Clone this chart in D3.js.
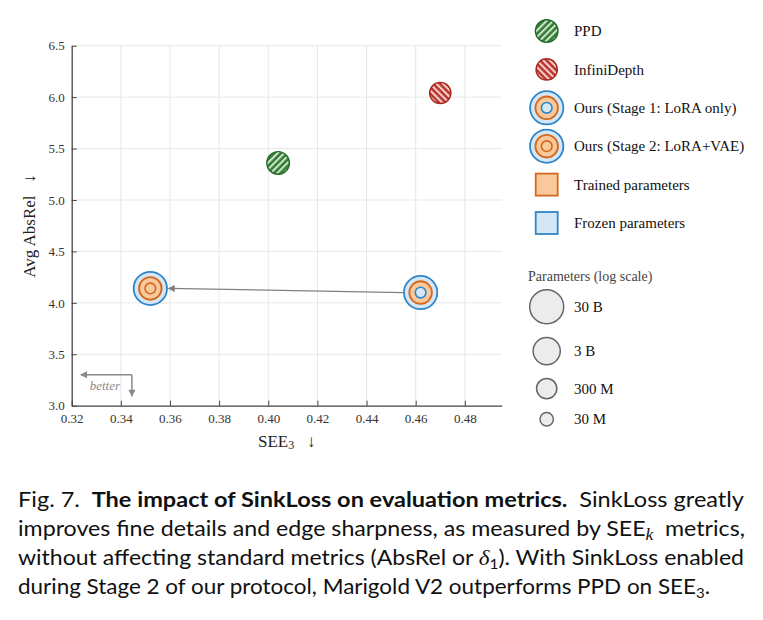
<!DOCTYPE html>
<html>
<head>
<meta charset="utf-8">
<script src="https://cdn.jsdelivr.net/npm/d3@7"></script>
<style>
  html, body { margin: 0; padding: 0; background: #fff; }
  svg { display: block; }
  .serif { font-family: "Liberation Serif", "DejaVu Serif", serif; }
  .caption text { font-family: Lato, "Noto Sans", sans-serif; white-space: pre; }
</style>
</head>
<body>
<div id="chart"></div>
<script>
// --- Data ---
const methods = ["PPD", "InfiniDepth", "Ours (Stage 1: LoRA only)", "Ours (Stage 2: LoRA+VAE)"];
const see3 = [0.404, 0.470, 0.462, 0.352];
const absRel = [5.36, 6.04, 4.10, 4.14];
const kinds = ["ppd", "infini", "stage1", "stage2"];
// parameter counts used for marker size (log scale)
const totalParams = [6.5e8, 4.2e8, 2.4e10, 2.4e10];
const trainedParams = [null, null, 6.5e8, 6.5e8];
const innerParams = [null, null, 1.2e7, 1.2e7];

const xTicks = [0.32, 0.34, 0.36, 0.38, 0.40, 0.42, 0.44, 0.46, 0.48];
const yTicks = [3.0, 3.5, 4.0, 4.5, 5.0, 5.5, 6.0, 6.5];

const legendLabels = ["PPD", "InfiniDepth", "Ours (Stage 1: LoRA only)", "Ours (Stage 2: LoRA+VAE)",
                      "Trained parameters", "Frozen parameters"];
const legendKinds = ["ppd", "infini", "stage1", "stage2", "trained", "frozen"];

const sizeTicks = [3e10, 3e9, 3e8, 3e7];
const sizeLabels = ["30 B", "3 B", "300 M", "30 M"];

// --- Colours ---
const BLUE = "#2f86c8", BLUE_FILL = "#d5e6f4";
const ORANGE = "#d2691e", ORANGE_FILL = "#f9c99b";
const SERIF = "'Liberation Serif', 'DejaVu Serif', serif";

const width = 763, height = 620;
const margin = { left: 71.7, right: 501.7, top: 45.7, bottom: 405.7 };

const svg = d3.select("#chart").append("svg")
    .attr("width", width)
    .attr("height", height);

svg.append("rect").attr("width", width).attr("height", height).attr("fill", "#fff");

const x = d3.scaleLinear().domain([0.32, 0.495]).range([margin.left, margin.right]);
const y = d3.scaleLinear().domain([3.0, 6.5]).range([margin.bottom, margin.top]);
const r = d3.scaleLog().domain([3e7, 3e10]).range([6.7, 17]);

// --- Defs: hatches & arrowheads ---
const defs = svg.append("defs");

function hatch(id, bg, fg, angle) {
    const p = defs.append("pattern")
        .attr("id", id)
        .attr("patternUnits", "userSpaceOnUse")
        .attr("width", 4.6).attr("height", 4.6)
        .attr("patternTransform", `rotate(${angle})`);
    p.append("rect").attr("width", 4.6).attr("height", 4.6).attr("fill", bg);
    p.append("rect").attr("width", 2.1).attr("height", 4.6).attr("fill", fg);
}
hatch("hatch-green", "#2e7a30", "#cfe2cb", 45);
hatch("hatch-red", "#b8332a", "#f4cfcb", -45);

function arrowMarker(id, color) {
    defs.append("marker")
        .attr("id", id)
        .attr("viewBox", "0 0 10 10")
        .attr("refX", 9).attr("refY", 5)
        .attr("markerUnits", "userSpaceOnUse")
        .attr("markerWidth", 8).attr("markerHeight", 7)
        .attr("orient", "auto")
        .append("path")
        .attr("d", "M0,0 L10,5 L0,10 z")
        .attr("fill", color);
}
arrowMarker("arrow-main", "#808080");
arrowMarker("arrow-better", "#8a8a8a");

// --- Grid ---
const grid = svg.append("g");
grid.selectAll("line.vx")
    .data(xTicks.slice(1))
    .join("line")
    .attr("x1", d => x(d)).attr("x2", d => x(d))
    .attr("y1", margin.top).attr("y2", margin.bottom)
    .attr("stroke", "#e7e7e7").attr("stroke-width", 1);
grid.selectAll("line.hy")
    .data(yTicks.slice(1))
    .join("line")
    .attr("x1", margin.left).attr("x2", margin.right)
    .attr("y1", d => y(d)).attr("y2", d => y(d))
    .attr("stroke", "#e7e7e7").attr("stroke-width", 1);

// --- Axes ---
const xAxis = svg.append("g")
    .attr("transform", `translate(0,${margin.bottom})`)
    .call(d3.axisBottom(x).tickValues(xTicks).tickFormat(d3.format(".2f"))
        .tickSizeInner(-5).tickSizeOuter(0).tickPadding(8));
const yAxis = svg.append("g")
    .attr("transform", `translate(${margin.left},0)`)
    .call(d3.axisLeft(y).tickValues(yTicks).tickFormat(d3.format(".1f"))
        .tickSizeInner(-5).tickSizeOuter(0).tickPadding(7));

[xAxis, yAxis].forEach(a => {
    a.attr("font-family", SERIF).attr("font-size", 13);
    a.select(".domain").attr("stroke", "#444").attr("stroke-width", 1.3);
    a.selectAll(".tick line").attr("stroke", "#444").attr("stroke-width", 1);
    a.selectAll(".tick text")
        .style("font-family", SERIF)
        .style("font-size", "13px")
        .attr("fill", "#333");
});

// axis labels
const xLabel = svg.append("text")
    .attr("x", (margin.left + margin.right) / 2)
    .attr("y", 446.5)
    .attr("text-anchor", "middle")
    .style("font-family", SERIF)
    .attr("font-size", 17)
    .attr("fill", "#222")
    .style("white-space", "pre");
xLabel.append("tspan").text("SEE");
xLabel.append("tspan").attr("font-size", 12).attr("dy", 2.5).text("3");
xLabel.append("tspan").attr("dy", -2.5).text("   \u2193");

svg.append("text")
    .attr("transform", "translate(35,226) rotate(-90)")
    .attr("text-anchor", "middle")
    .style("font-family", SERIF)
    .attr("font-size", 17)
    .attr("fill", "#222")
    .style("white-space", "pre")
    .text("Avg AbsRel   \u2193");

// --- Marker drawing ---
function ringsFor(kind, total, trained, inner) {
    if (kind === "ppd") return [{ r: r(total), fill: "url(#hatch-green)", stroke: "#23692a", w: 1.4 }];
    if (kind === "infini") return [{ r: r(total), fill: "url(#hatch-red)", stroke: "#a8271f", w: 1.4 }];
    const rings = [
        { r: r(total), fill: BLUE_FILL, stroke: BLUE, w: 1.8 },
        { r: r(trained), fill: ORANGE_FILL, stroke: ORANGE, w: 1.8 }
    ];
    if (kind === "stage1") rings.push({ r: r(inner), fill: BLUE_FILL, stroke: BLUE, w: 1.6 });
    else rings.push({ r: r(inner), fill: ORANGE_FILL, stroke: ORANGE, w: 1.6 });
    return rings;
}

function drawMarker(g, cx, cy, rings) {
    rings.forEach(ring => {
        g.append("circle")
            .attr("cx", cx).attr("cy", cy).attr("r", ring.r)
            .attr("fill", ring.fill)
            .attr("stroke", ring.stroke)
            .attr("stroke-width", ring.w);
    });
}

// --- "better" hint ---
const hint = svg.append("g");
hint.append("path")
    .attr("d", d3.line()([[x(0.3445), y(3.3)], [x(0.3237), y(3.3)]]))
    .attr("stroke", "#8a8a8a").attr("stroke-width", 1.5).attr("fill", "none")
    .attr("marker-end", "url(#arrow-better)");
hint.append("path")
    .attr("d", d3.line()([[x(0.3445), y(3.3)], [x(0.3445), y(3.093)]]))
    .attr("stroke", "#8a8a8a").attr("stroke-width", 1.5).attr("fill", "none")
    .attr("marker-end", "url(#arrow-better)");
hint.append("text")
    .attr("x", x(0.3335)).attr("y", y(3.148))
    .attr("text-anchor", "middle")
    .style("font-family", SERIF)
    .attr("font-size", 13)
    .attr("font-style", "italic")
    .attr("fill", "#8a8a8a")
    .text("better");

// --- Stage 1 -> Stage 2 arrow ---
const s1 = methods.indexOf("Ours (Stage 1: LoRA only)");
const s2 = methods.indexOf("Ours (Stage 2: LoRA+VAE)");
svg.append("path")
    .attr("d", d3.line()([
        [x(see3[s1]) - r(totalParams[s1]), y(absRel[s1])],
        [x(see3[s2]) + r(totalParams[s2]) + 1.5, y(absRel[s2])]
    ]))
    .attr("stroke", "#808080").attr("stroke-width", 1.3).attr("fill", "none")
    .attr("marker-end", "url(#arrow-main)");

// --- Points ---
const points = svg.append("g");
methods.forEach((m, i) => {
    drawMarker(points, x(see3[i]), y(absRel[i]),
        ringsFor(kinds[i], totalParams[i], trainedParams[i], innerParams[i]));
});

// --- Legend ---
const legend = svg.append("g");
const legX = 546.7, legTextX = 574, legY0 = 31, legStep = 38.4;
legendLabels.forEach((label, i) => {
    const cy = legY0 + i * legStep;
    const kind = legendKinds[i];
    if (kind === "trained" || kind === "frozen") {
        const s = 22;
        legend.append("rect")
            .attr("x", legX - s / 2).attr("y", cy - s / 2)
            .attr("width", s).attr("height", s)
            .attr("fill", kind === "trained" ? ORANGE_FILL : BLUE_FILL)
            .attr("stroke", kind === "trained" ? ORANGE : BLUE)
            .attr("stroke-width", 1.8);
    } else {
        const mi = kinds.indexOf(kind);
        drawMarker(legend, legX, cy, ringsFor(kind, totalParams[mi], trainedParams[mi], innerParams[mi]));
    }
    legend.append("text")
        .attr("x", legTextX).attr("y", cy)
        .attr("dy", "0.35em")
        .style("font-family", SERIF)
        .attr("font-size", 15)
        .attr("fill", "#111")
        .text(label);
});

// size legend
legend.append("text")
    .attr("x", 528).attr("y", 281)
    .style("font-family", SERIF)
    .attr("font-size", 14)
    .attr("fill", "#444")
    .text("Parameters (log scale)");

let sy = 306.7;
sizeTicks.forEach((p, i) => {
    if (i > 0) sy += r(sizeTicks[i - 1]) + r(p) + 13.8;
    legend.append("circle")
        .attr("cx", legX).attr("cy", sy).attr("r", r(p))
        .attr("fill", "#ececec").attr("stroke", "#666").attr("stroke-width", 1.5);
    legend.append("text")
        .attr("x", legTextX).attr("y", sy)
        .attr("dy", "0.35em")
        .style("font-family", SERIF)
        .attr("font-size", 15)
        .attr("fill", "#111")
        .text(sizeLabels[i]);
});

// --- Caption ---
const cap = svg.append("g").attr("class", "caption").attr("font-size", 21).attr("fill", "#111");
const capX = 18;

const l1 = cap.append("text").attr("x", capX).attr("y", 507)
    .attr("textLength", 726).attr("lengthAdjust", "spacingAndGlyphs");
l1.append("tspan").text("Fig. 7.\u2002");
l1.append("tspan").attr("font-weight", "bold").text("The impact of SinkLoss on evaluation metrics.");
l1.append("tspan").text("\u2002SinkLoss greatly");

const l2 = cap.append("text").attr("x", capX).attr("y", 536)
    .attr("textLength", 727).attr("lengthAdjust", "spacingAndGlyphs");
l2.append("tspan").text("improves fine details and edge sharpness, as measured by SEE");
l2.append("tspan").attr("font-style", "italic").style("font-family", SERIF)
    .attr("font-size", 16).attr("dy", 4).text("k");
l2.append("tspan").attr("dy", -4).text("\u2002metrics,");

const l3 = cap.append("text").attr("x", capX).attr("y", 565)
    .attr("textLength", 726).attr("lengthAdjust", "spacingAndGlyphs");
l3.append("tspan").text("without affecting standard metrics (AbsRel or ");
l3.append("tspan").attr("font-style", "italic").style("font-family", SERIF).text("\u03b4");
l3.append("tspan").attr("font-size", 14).attr("dy", 4).text("1");
l3.append("tspan").attr("dy", -4).text("). With SinkLoss enabled");

const l4 = cap.append("text").attr("x", capX).attr("y", 594)
    .attr("textLength", 692).attr("lengthAdjust", "spacingAndGlyphs");
l4.append("tspan").text("during Stage 2 of our protocol, Marigold V2 outperforms PPD on SEE");
l4.append("tspan").attr("font-size", 14).attr("dy", 4).text("3");
l4.append("tspan").attr("dy", -4).text(".");
</script>
</body>
</html>
